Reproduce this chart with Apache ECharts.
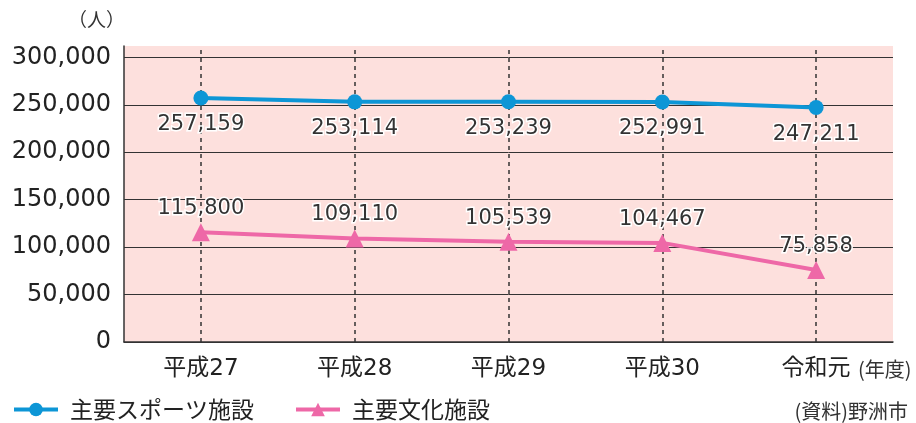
<!DOCTYPE html>
<html><head><meta charset="utf-8">
<script src="https://cdn.jsdelivr.net/npm/echarts@6/dist/echarts.min.js"></script>
<style>html,body{margin:0;padding:0;background:#fff}#c{width:916px;height:423px}</style>
</head><body><div id="c"></div>
<script>
var categories = ['平成27', '平成28', '平成29', '平成30', '令和元'];
var sports = [257159, 253114, 253239, 252991, 247211];
var culture = [115800, 109110, 105539, 104467, 75858];
var seriesNames = ['主要スポーツ施設', '主要文化施設'];
var yTicks = { min: 0, max: 312000, interval: 50000 };

var FONT = '"DejaVu Sans", "Noto Sans CJK JP", sans-serif';
var JFONT = '"Noto Sans CJK JP", sans-serif';
var chart = echarts.init(document.getElementById('c'));
var labelBase = {
  show: true, fontSize: 21, fontFamily: FONT, color: '#333',
  textBorderColor: '#fff', textBorderWidth: 3,
  formatter: function (p) { return p.value.toLocaleString('en-US'); }
};
chart.setOption({
  animation: false,
  textStyle: { fontFamily: FONT },
  grid: { left: 124, right: 23, top: 46, bottom: 81, show: true, backgroundColor: '#fde0dd', borderWidth: 0 },
  xAxis: {
    type: 'category', data: categories, boundaryGap: true,
    axisLine: { lineStyle: { color: '#333', width: 1.5 } },
    axisTick: { show: false },
    axisLabel: { fontSize: 23, color: '#222', margin: 16, fontFamily: FONT },
    splitLine: { show: false }
  },
  yAxis: {
    type: 'value', min: yTicks.min, max: yTicks.max, interval: yTicks.interval,
    axisLine: { show: true, lineStyle: { color: '#333', width: 1.5 } },
    axisTick: { show: false },
    axisLabel: { fontSize: 24, color: '#222', margin: 13, showMaxLabel: false, fontFamily: FONT,
      formatter: function (v) { return v.toLocaleString('en-US'); } },
    splitLine: { show: true, showMaxLine: false, lineStyle: { color: '#333', width: 1 } }
  },
  legend: {
    left: 7, top: 393, itemWidth: 44, itemHeight: 17, itemGap: 40,
    lineStyle: { width: 4 },
    textStyle: { fontSize: 23, color: '#222', fontFamily: JFONT, padding: [0, 0, 0, 7] },
    data: seriesNames
  },
  graphic: [
    { type: 'text', left: 68, top: 10, style: { text: '（人）', fill: '#333', font: '19px ' + JFONT } },
    { type: 'text', left: 858, top: 359, style: { text: '(年度)', fill: '#333', font: '20px ' + JFONT } },
    { type: 'text', right: 8, top: 401, style: { text: '(資料)野洲市', fill: '#333', font: '20px ' + JFONT } }
  ],
  series: [
    {
      name: seriesNames[0], type: 'line', data: sports,
      symbol: 'circle', symbolSize: 15,
      lineStyle: { color: '#0d96d6', width: 4 },
      itemStyle: { color: '#0d96d6' },
      label: Object.assign({}, labelBase, { position: 'bottom', distance: 9 }),
      z: 3,
      markLine: {
        silent: true, symbol: 'none', label: { show: false },
        lineStyle: { color: '#333', type: [4, 4], width: 1.5 },
        data: categories.map(function (c) { return { xAxis: c }; }),
        z: 1
      }
    },
    {
      name: seriesNames[1], type: 'line', data: culture,
      symbol: 'triangle', symbolSize: 18,
      lineStyle: { color: '#ee68a7', width: 4 },
      itemStyle: { color: '#ee68a7' },
      label: Object.assign({}, labelBase, { position: 'top', distance: 4 }),
      z: 3
    }
  ]
});
</script></body></html>
